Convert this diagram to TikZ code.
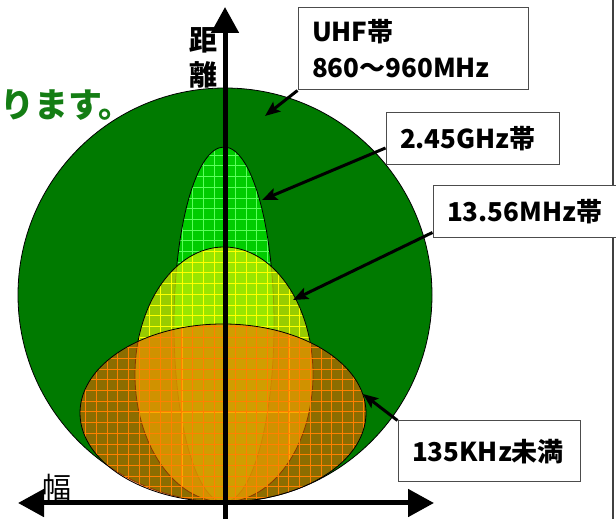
\documentclass[tikz,border=0pt]{standalone}
\usepackage{fontspec}
\setmainfont{Noto Sans CJK JP}
\usetikzlibrary{arrows.meta}

\definecolor{uhfgreen}{RGB}{0,122,0}
\definecolor{ghzgreen}{RGB}{0,204,0}
\definecolor{ghzgrid}{RGB}{90,255,90}
\definecolor{mhzyellow}{RGB}{225,243,0}
\definecolor{mhzgrid}{RGB}{255,255,0}
\definecolor{khzorange}{RGB}{255,100,0}
\definecolor{khzgrid}{RGB}{255,128,0}
\definecolor{notegreen}{RGB}{20,125,20}

\begin{document}
\begin{tikzpicture}[x=1pt,y=1pt,
    bandbox/.style={draw=black!70, fill=white, line width=1pt, inner xsep=14pt, align=left,
      font=\bfseries\fontsize{26}{36}\selectfont},
    pointer/.style={line width=3pt, -{Stealth[length=15pt,width=12pt,inset=3pt]}},
    axistip/.tip={Triangle[length=26pt,width=27pt]},
    rim/.style={draw=black, line width=0.8pt}]
    \useasboundingbox (0,0) rectangle (616,519);
    \node (note) [anchor=base west, inner xsep=0pt, text=notegreen, font=\bfseries\fontsize{34}{34}\selectfont] at (0,401) {ります。};
    % widest band first
    \filldraw[rim, fill=uhfgreen] (225,224) circle [radius=207];
    \begin{scope}
        \clip (224,194.5) ellipse [x radius=50, y radius=177.5];
        \fill[ghzgreen] (170,10) rectangle (280,380);
        \draw[ghzgrid, line width=0.8pt, step=10.7] (170,10) grid (280,380);
    \end{scope}
    \draw[rim] (224,194.5) ellipse [x radius=50, y radius=177.5];
    \begin{scope}
        \clip (224,144.5) ellipse [x radius=89, y radius=127.5];
        \fill[mhzyellow, fill opacity=0.68] (130,10) rectangle (320,280);
        \draw[mhzgrid, line width=0.8pt, step=10.7] (130,10) grid (320,280);
    \end{scope}
    \draw[rim] (224,144.5) ellipse [x radius=89, y radius=127.5];
    \begin{scope}
        \clip (223,106) ellipse [x radius=143, y radius=89];
        \fill[khzorange, fill opacity=0.55] (75,10) rectangle (370,200);
        \draw[khzgrid, line width=1pt, step=10.7] (75,10) grid (370,200);
    \end{scope}
    \draw[rim] (223,106) ellipse [x radius=143, y radius=89];
    % axes
    \coordinate (ybot) at (225,0);
    \coordinate (ytop) at (225,512);
    \coordinate (xleft) at (18,16);
    \coordinate (xright) at (434,16);
    \draw[line width=5pt, -axistip] (ybot) -- (ytop);
    \draw[line width=5pt, axistip-axistip] (xleft) -- (xright);
    \node (dist) [align=center, font=\bfseries\fontsize{28}{35}\selectfont] at (203,461) {距\\離};
    \node (width) [font=\fontsize{29}{29}\selectfont] at (57,32) {幅};
    \draw[black!75, line width=1.5pt] (613,0) -- (613,519);
    % labels
    \node (uhf) [bandbox, text width=202pt, minimum height=82pt] at (413,470) {UHF帯\\860～960MHz};
    \node (ghz) [bandbox, text width=145pt, minimum height=52pt] at (472.5,380) {2.45GHz帯};
    \node (mhz) [bandbox, text width=157pt, minimum height=52pt] at (525.5,307) {13.56MHz帯};
    \node (khz) [bandbox, text width=154pt, minimum height=61pt] at (489,67.5) {135KHz未満};
    \coordinate (uhftip) at (265,403);
    \coordinate (ghztip) at (262,319);
    \coordinate (mhztip) at (293,219);
    \coordinate (khztip) at (363,125);
    \draw[pointer] (uhf.south west) -- (uhftip);
    \draw[pointer] ([yshift=-9pt]ghz.west) -- (ghztip);
    \draw[pointer] ([yshift=6pt]mhz.south west) -- (mhztip);
    \draw[pointer] (khz.north west) -- (khztip);
\end{tikzpicture}
\end{document}
